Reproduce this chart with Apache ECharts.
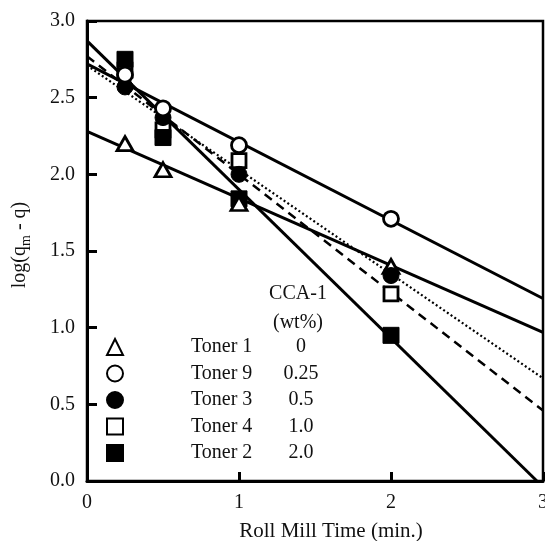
<!DOCTYPE html>
<html><head><meta charset="utf-8">
<script src="https://cdn.jsdelivr.net/npm/echarts@6/dist/echarts.min.js"></script>
<style>html,body{margin:0;padding:0;background:#fff}#c{width:545px;height:541px}</style>
</head><body><div id="c"></div>
<script>
// ---- data ----
const times = [0.25, 0.5, 1, 2];
const toner1 = [2.20, 2.03, 1.81, 1.40];
const toner9 = [2.65, 2.43, 2.19, 1.71];
const toner3 = [2.57, 2.37, 2.00, 1.34];
const toner4 = [2.68, 2.29, 2.09, 1.22];
const toner2 = [2.75, 2.24, 1.84, 0.95];
const tonerNames = ['Toner 1', 'Toner 9', 'Toner 3', 'Toner 4', 'Toner 2'];
const ccaValues = ['0', '0.25', '0.5', '1.0', '2.0'];
const legendHeader = ['CCA-1', '(wt%)'];
// fitted lines: [x, y] endpoints
const fit1 = [[0, 2.28], [3, 0.97]];
const fit9 = [[0, 2.72], [3, 1.19]];
const fit3 = [[0, 2.71], [3, 0.67]];
const fit4 = [[0, 2.77], [3, 0.46]];
const fit2 = [[0, 2.87], [2.96, 0]];
const xRange = [0, 3];
const yRange = [0, 3];

const FONT = '"Liberation Serif", "Times New Roman", serif';
const pts = arr => times.map((t, i) => [t, arr[i]]);

const open = {color: '#fff', borderColor: '#000', borderWidth: 2.8, opacity: 1};
const filled = {color: '#000', borderColor: '#000', borderWidth: 1, opacity: 1};

function fitLine(name, data, type, width) {
  return {
    name: name, type: 'line', data: data, symbol: 'none', silent: true,
    lineStyle: {color: '#000', width: width, type: type}, z: 2
  };
}
function scat(name, data, symbol, size, style) {
  return {
    name: name, type: 'scatter', data: pts(data), symbol: symbol, symbolSize: size,
    itemStyle: style, emphasis: {disabled: true}, z: 3
  };
}

const chart = echarts.init(document.getElementById('c'), null, {renderer: 'canvas'});
chart.setOption({
  animation: false,
  backgroundColor: '#fff',
  grid: {left: 87, right: 2, top: 21, bottom: 60, show: true, borderColor: '#000', borderWidth: 2.5,
         containLabel: false, outerBoundsMode: 'none'},
  xAxis: {
    type: 'value', min: xRange[0], max: xRange[1], interval: 1,
    axisLine: {lineStyle: {color: '#000', width: 3}},
    axisTick: {inside: true, length: 9, lineStyle: {color: '#000', width: 3}},
    axisLabel: {fontFamily: FONT, fontSize: 20, color: '#111', margin: 12},
    splitLine: {show: false},
    name: 'Roll Mill Time (min.)', nameLocation: 'middle', nameGap: 40,
    nameTextStyle: {fontFamily: FONT, fontSize: 21, color: '#111', padding: [0, 0, 0, 32]}
  },
  yAxis: {
    type: 'value', min: yRange[0], max: yRange[1], interval: 0.5,
    axisLine: {lineStyle: {color: '#000', width: 3}},
    axisTick: {inside: true, length: 10, lineStyle: {color: '#000', width: 3}},
    axisLabel: {fontFamily: FONT, fontSize: 20, color: '#111', margin: 12, formatter: v => v.toFixed(1)},
    splitLine: {show: false},
    name: 'log(q{sub|m} - q)', nameLocation: 'middle', nameGap: 54,
    nameTextStyle: {
      fontFamily: FONT, fontSize: 20, color: '#111', lineHeight: 26, padding: [0, 0, 0, 12],
      rich: {sub: {fontFamily: FONT, fontSize: 14, color: '#111', verticalAlign: 'bottom', lineHeight: 14}}
    }
  },
  legend: {
    orient: 'vertical', left: 106, top: 337, padding: 0, itemWidth: 16, itemHeight: 16, itemGap: 6.5,
    selectedMode: false, data: tonerNames,
    formatter: name => '{s| }{n|' + name + '}{v|' + ccaValues[tonerNames.indexOf(name)] + '}',
    textStyle: {
      fontFamily: FONT, fontSize: 20, color: '#111', lineHeight: 20,
      rich: {
        s: {width: 63, fontSize: 20, fontFamily: FONT, lineHeight: 20},
        n: {width: 88, fontSize: 20, fontFamily: FONT, color: '#111', lineHeight: 20},
        v: {width: 44, align: 'center', fontSize: 20, fontFamily: FONT, color: '#111', lineHeight: 20}
      }
    }
  },
  graphic: [
    {type: 'text', x: 298, y: 294, z: 10, style: {text: legendHeader[0], align: 'center', verticalAlign: 'middle', font: '20px ' + FONT, fill: '#111'}},
    {type: 'text', x: 298, y: 323, z: 10, style: {text: legendHeader[1], align: 'center', verticalAlign: 'middle', font: '20px ' + FONT, fill: '#111'}}
  ],
  series: [
    fitLine('fit9', fit9, 'solid', 3),
    fitLine('fit1', fit1, 'solid', 3),
    fitLine('fit2', fit2, 'solid', 3),
    fitLine('fit4', fit4, [9, 6], 2.5),
    fitLine('fit3', fit3, [2, 2.5], 2.2),
    scat('Toner 4', toner4, 'rect', 14, open),
    scat('Toner 2', toner2, 'rect', 16, filled),
    scat('Toner 1', toner1, 'triangle', [16, 14], open),
    scat('Toner 3', toner3, 'circle', 16, filled),
    scat('Toner 9', toner9, 'circle', 15, open)
  ]
});
</script>
</body></html>
